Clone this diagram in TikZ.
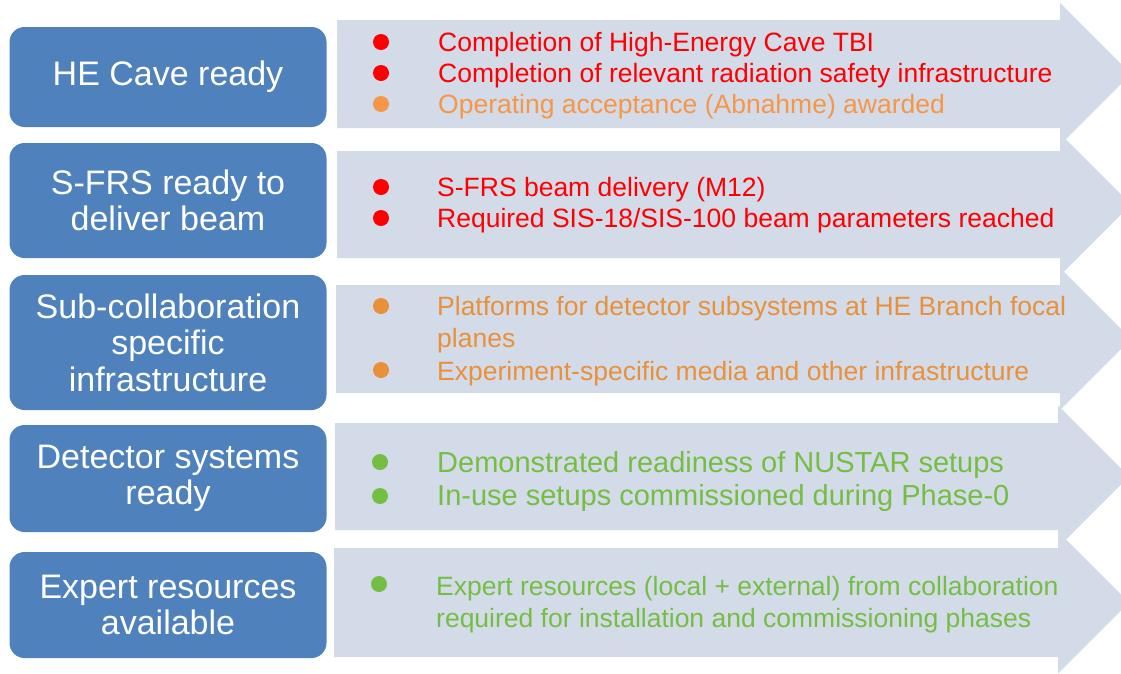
\documentclass[tikz,border=0pt]{standalone}
\usepackage{fontspec}
\setmainfont{Liberation Sans}
\usepackage{xcolor}
\usepackage{tikz}
\usetikzlibrary{positioning}
\definecolor{boxblue}{RGB}{79, 129, 189}
\definecolor{bandbg}{RGB}{211, 219, 232}
\definecolor{warnorange}{RGB}{247, 150, 70}
\definecolor{infraorange}{RGB}{232, 145, 58}
\definecolor{okgreen}{RGB}{116, 190, 68}

\begin{document}
\begin{tikzpicture}[x=1pt, y=-1pt,
			goal/.style={fill=boxblue, text=white, rounded corners=15pt, align=center, inner sep=0pt, minimum width=317pt, font=\fontsize{34}{36.5}\selectfont},
			item/.style={anchor=base west, inner sep=0pt, font=\fontsize{26.5}{31}\selectfont},
			dot/.style={circle, inner sep=0pt, minimum size=16pt}
			]
			\useasboundingbox (0,0) rectangle (1121,673);
			
			% Arrow bands
			\fill[bandbg] (337,20) -- (1060,20) -- (1060,3) -- (1131,74) -- (1060,145) -- (1060,128) -- (337,128) -- cycle;
			\fill[bandbg] (337,151) -- (1060,151) -- (1060,133.5) -- (1131,204.5) -- (1060,275.5) -- (1060,258) -- (337,258) -- cycle;
			\fill[bandbg] (336,285) -- (1060,285) -- (1060,268) -- (1131,339) -- (1060,410) -- (1060,393) -- (336,393) -- cycle;
			\fill[bandbg] (335,423) -- (1058,423) -- (1058,405.5) -- (1129,476.5) -- (1058,547.5) -- (1058,530) -- (335,530) -- cycle;
			\fill[bandbg] (334,548) -- (1058,548) -- (1058,531.5) -- (1129,602.5) -- (1058,673.5) -- (1058,657) -- (334,657) -- cycle;
			
			% Milestones
			\node[goal, minimum height=100pt] (cave) at (168, 77) {HE Cave ready};
			\node[goal, minimum height=115pt] (sfrs) at (168, 200.5) {S-FRS ready to\\deliver beam};
			\node[goal, minimum height=135pt] (infra) at (168, 342.5) {Sub-collaboration\\specific\\infrastructure};
			\node[goal, minimum height=107pt] (det) at (168, 478.5) {Detector systems\\ready};
			\node[goal, minimum height=106pt] (expert) at (168, 605) {Expert resources\\available};
			
			% HE Cave items
			\node[dot, fill=red] (b11) at (381, 42) {};
			\node[dot, fill=red] (b12) at (381, 73) {};
			\node[dot, fill=warnorange] (b13) at (381, 104) {};
			\node[item, text=red] (t11) at (438, 51.5) {Completion of High-Energy Cave TBI};
			\node[item, text=red] (t12) at (438, 82.5) {Completion of relevant radiation safety infrastructure};
			\node[item, text=warnorange] (t13) at (438, 113.5) {Operating acceptance (Abnahme) awarded};
			
			% S-FRS items
			\node[dot, fill=red] (b21) at (381, 187) {};
			\node[dot, fill=red] (b22) at (381, 218) {};
			\node[item, text=red] (t21) at (437, 196.5) {S-FRS beam delivery (M12)};
			\node[item, text=red] (t22) at (437, 227.5) {Required SIS-18/SIS-100 beam parameters reached};
			
			% Infrastructure items
			\node[dot, fill=infraorange] (b31) at (381, 306) {};
			\node[dot, fill=infraorange] (b32) at (381, 370) {};
			\node[item, text=infraorange] (t31) at (437, 315) {Platforms for detector subsystems at HE Branch focal};
			\node[item, text=infraorange] (t31b) at (437, 347) {planes};
			\node[item, text=infraorange] (t32) at (437, 380) {Experiment-specific media and other infrastructure};
			
			% Detector items
			\node[dot, fill=okgreen] (b41) at (380, 462) {};
			\node[dot, fill=okgreen] (b42) at (380, 496) {};
			\node[item, text=okgreen, font=\fontsize{29}{33}\selectfont] (t41) at (437, 472.3) {Demonstrated readiness of NUSTAR setups};
			\node[item, text=okgreen, font=\fontsize{29}{33}\selectfont] (t42) at (437, 505.7) {In-use setups commissioned during Phase-0};
			
			% Expert items
			\node[dot, fill=okgreen] (b51) at (379, 584) {};
			\node[item, text=okgreen] (t51) at (436, 595) {Expert resources (local + external) from collaboration};
			\node[item, text=okgreen] (t51b) at (436, 627) {required for installation and commissioning phases};
		\end{tikzpicture}
\end{document}
